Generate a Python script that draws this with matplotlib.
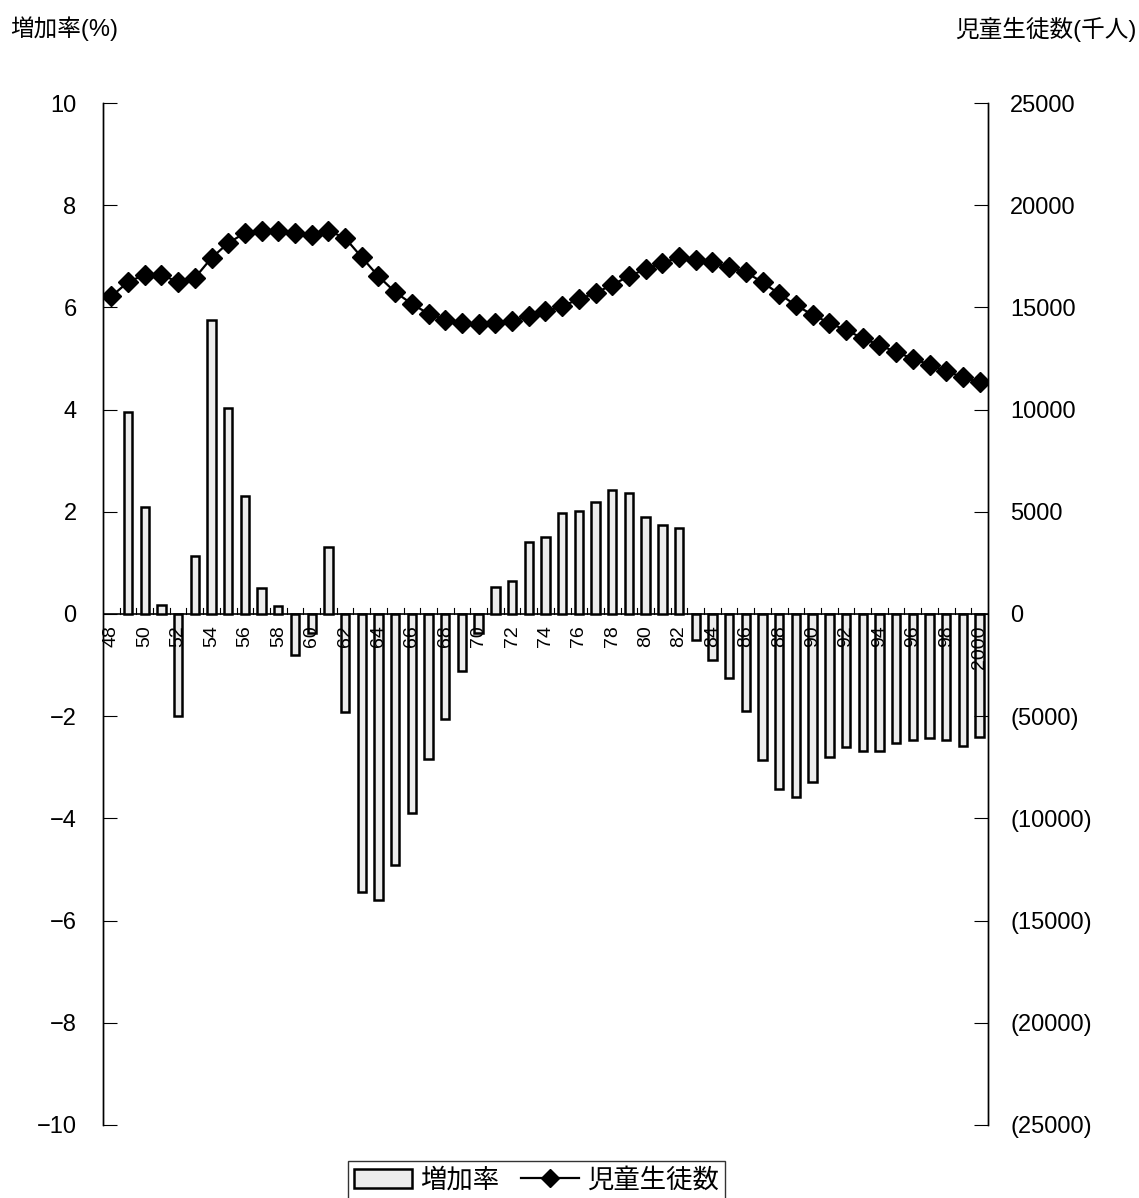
import numpy as np
import matplotlib
matplotlib.use("Agg")
import matplotlib.pyplot as plt
from matplotlib.patches import Patch
from matplotlib.lines import Line2D
from matplotlib.ticker import FuncFormatter

plt.rcParams["font.family"] = ["Liberation Sans", "Noto Sans CJK JP", "DejaVu Sans"]

years = list(range(1948, 2001))
year_labels = [str(y % 100) if y < 2000 else "2000" for y in years]

# 増加率 (%)
growth_rate = [
    np.nan, 3.95, 2.09, 0.18, -2.0, 1.14, 5.75, 4.03, 2.31, 0.51,
    0.15, -0.80, -0.37, 1.32, -1.91, -5.45, -5.60, -4.91, -3.89, -2.84,
    -2.05, -1.11, -0.37, 0.53, 0.64, 1.41, 1.51, 1.98, 2.02, 2.20,
    2.43, 2.37, 1.89, 1.74, 1.68, -0.50, -0.91, -1.25, -1.90, -2.86,
    -3.42, -3.58, -3.28, -2.79, -2.60, -2.69, -2.69, -2.52, -2.47, -2.43,
    -2.47, -2.59, -2.40,
]

# 児童生徒数 (千人)
students = [
    15540, 16240, 16600, 16600, 16240, 16440, 17420, 18150, 18640, 18720,
    18750, 18640, 18560, 18750, 18400, 17450, 16520, 15750, 15170, 14690,
    14400, 14240, 14190, 14240, 14350, 14560, 14810, 15050, 15410, 15700,
    16110, 16520, 16880, 17170, 17450, 17330, 17200, 16960, 16720, 16230,
    15660, 15100, 14640, 14240, 13880, 13500, 13150, 12820, 12490, 12200,
    11870, 11590, 11330,
]

x = np.arange(len(years))

fig = plt.figure(figsize=(11.39, 11.98), dpi=100)
ax = fig.add_axes([0.0904, 0.061, 0.777, 0.853])
ax2 = ax.twinx()
ax.set_axisbelow(False)

ax.bar(x, growth_rate, width=0.5, facecolor="#ececec", edgecolor="black", linewidth=1.8, zorder=2)
ax2.plot(x, students, color="black", linewidth=1.6, marker="D", markersize=10, zorder=3)

ax.set_xlim(-0.5, len(years) - 0.5)
ax.set_ylim(-10, 10)
ax.set_yticks(np.arange(-10, 11, 2))
ax2.set_ylim(-25000, 25000)
ax2.set_yticks(np.arange(-25000, 25001, 5000))
ax2.yaxis.set_major_formatter(FuncFormatter(lambda v, p: f"({int(-v)})" if v < 0 else f"{int(v)}"))
ax.yaxis.set_major_formatter(FuncFormatter(lambda v, p: f"{int(v)}".replace("-", "\u2212")))

for spine in ["top", "bottom"]:
    ax.spines[spine].set_visible(False)
    ax2.spines[spine].set_visible(False)
for a in (ax, ax2):
    a.spines["left"].set_linewidth(1.0)
    a.spines["right"].set_linewidth(1.0)

ax.axhline(0, color="black", linewidth=1.2, zorder=1)

ax.set_xticks(x[::2])
ax.set_xticklabels(year_labels[::2], rotation=90, fontsize=14)
ax.tick_params(axis="x", which="major", length=0, pad=0)
for xb in np.arange(0.5, len(years) - 1, 1):
    ax.plot([xb, xb], [0, 0.12], color="black", linewidth=0.8, zorder=1)
for lab in ax.get_xticklabels():
    lab.set_y(0.5 - 0.011)
    lab.set_va("top")

ax.tick_params(axis="y", direction="in", length=10, labelsize=17, pad=19)
ax2.tick_params(axis="y", direction="in", length=10, labelsize=17, pad=16)

fig.text(0.009, 0.976, "増加率(%)", fontsize=17, ha="left", va="center")
fig.text(0.998, 0.975, "児童生徒数(千人)", fontsize=17, ha="right", va="center")

handles = [
    Patch(facecolor="#ececec", edgecolor="black", linewidth=1.8),
    Line2D([0], [0], color="black", linewidth=1.6, marker="D", markersize=9),
]
fig.legend(handles, ["増加率", "児童生徒数"], loc="lower center", bbox_to_anchor=(0.471, -0.012),
           ncol=2, fontsize=19, frameon=True, fancybox=False, edgecolor="black",
           handlelength=2.2, handletextpad=0.3, columnspacing=0.8, borderpad=0.25)

fig.savefig("out.png", dpi=100, facecolor="white")
